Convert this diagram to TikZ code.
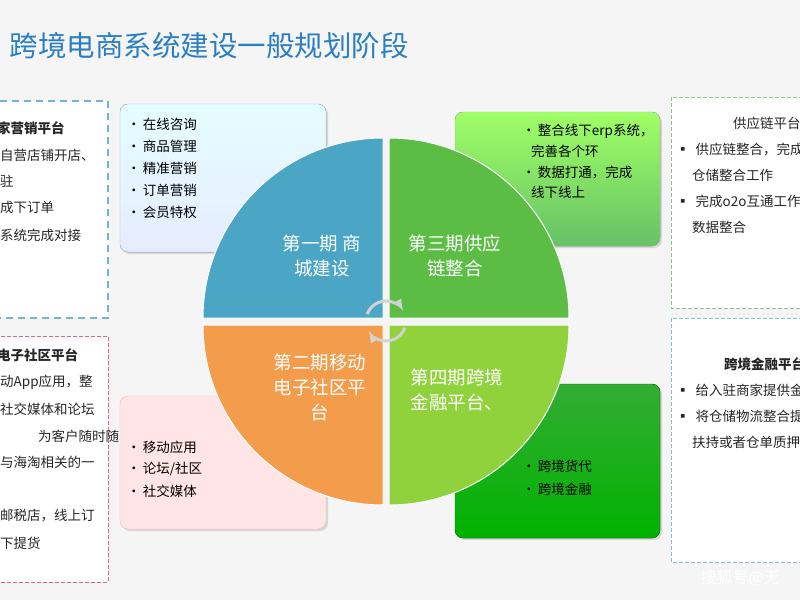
\documentclass[tikz,border=0pt]{standalone}
\usepackage{fontspec}
\setmainfont{Noto Sans CJK SC}
\usetikzlibrary{shadows}
\definecolor{qb}{HTML}{4BA5C4}
\definecolor{qg}{HTML}{5CBD45}
\definecolor{qo}{HTML}{F39C4B}
\definecolor{ql}{HTML}{8FD23C}
\definecolor{tt}{HTML}{2A7FC4}
\begin{document}
\begin{tikzpicture}[x=1pt,y=-1pt,
  q/.style={draw=white,line width=1pt},
  qt/.style={text=white,font=\fontsize{18.5}{25}\selectfont,align=center},
  bx/.style={rounded corners=8pt,drop shadow={opacity=0.25,shadow xshift=2pt,shadow yshift=-2pt}},
  bl/.style={anchor=west,font=\fontsize{13.5}{15}\selectfont,inner sep=0pt},
  sd/.style={anchor=west,font=\fontsize{13.5}{15}\selectfont,inner sep=0pt,text=black!85},
  db/.style={fill=white,line width=1.6pt,dash pattern=on 7pt off 5pt}]
\useasboundingbox (0,0) rectangle (800,600);
\fill[black!4] (0,0) rectangle (800,600);
\clip (0,0) rectangle (800,600);
\node[anchor=west,text=tt,font=\fontsize{28.5}{32}\selectfont] (title) at (6,46) {跨境电商系统建设一般规划阶段};
% side dashed boxes
\draw[db,draw=qb!80] (-5,101) rectangle (108,318);
\draw[db,draw=red!40!purple!60,line width=1pt,dash pattern=on 4pt off 2pt] (-5,336) rectangle (108,582);
\draw[db,draw=green!30!gray!70,line width=1pt,dash pattern=on 4pt off 2pt] (671,97) rectangle (805,308);
\draw[db,draw=qb!70,line width=1pt,dash pattern=on 4pt off 2pt] (671,318) rectangle (805,562);
\node[sd,font=\bfseries\fontsize{13.5}{15}\selectfont] (l1) at (-3,128) {家营销平台};
\node[sd] (l2) at (0,155) {自营店铺开店、};
\node[sd] (l3) at (0,181) {驻};
\node[sd] (l4) at (0,207) {成下订单};
\node[sd] (l5) at (0,235) {系统完成对接};
\node[sd,font=\bfseries\fontsize{13.5}{15}\selectfont] (m1) at (-3,355) {电子社区平台};
\node[sd] (m2) at (0,382) {动App应用，整};
\node[sd] (m3) at (0,409) {社交媒体和论坛};
\node[sd] (m4) at (38,436) {为客户随时随};
\node[sd] (m5) at (0,462) {与海淘相关的一};
\node[sd] (m6) at (0,516) {邮税店，线上订};
\node[sd] (m7) at (0,543) {下提货};
\node[sd] (r1) at (733,123) {供应链平台};
\node[sd] (r2) at (676,149) {▪\hspace{6pt}供应链整合，完成};
\node[sd] (r3) at (692,175) {仓储整合工作};
\node[sd] (r4) at (676,201) {▪\hspace{6pt}完成o2o互通工作};
\node[sd] (r5) at (692,227) {数据整合};
\node[sd,font=\bfseries\fontsize{13.5}{15}\selectfont] (s1) at (724,364) {跨境金融平台};
\node[sd] (s2) at (676,390) {▪\hspace{6pt}给入驻商家提供金融};
\node[sd] (s3) at (676,416) {▪\hspace{6pt}将仓储物流整合提供};
\node[sd] (s4) at (692,442) {扶持或者仓单质押};
% feature boxes
\fill[bx,top color=blue!8!cyan!10,bottom color=cyan!25!blue!10,draw=qb!60] (120,104) rectangle (326,252);
\fill[bx,top color=green!50!lime!60,bottom color=green!60!black!60,draw=green!50!black!40] (455,112) rectangle (660,246);
\fill[bx,fill=red!10,draw=red!30] (120,396) rectangle (326,529);
\fill[bx,top color=green!60!black!80,bottom color=green!70!black,draw=green!50!black] (455,384) rectangle (660,538);
\foreach \t [count=\i] in {在线咨询,商品管理,精准营销,订单营销,会员特权}
  \node[bl] (a\i) at (127,102+22*\i) {•\,\t};
\node[bl] (b1) at (522,131) {•\,整合线下erp系统，};
\node[bl] (b2) at (531,151) {完善各个环};
\node[bl] (b3) at (522,172) {•\,数据打通，完成};
\node[bl] (b4) at (531,192) {线下线上};
\foreach \t [count=\i] in {移动应用,论坛/社区,社交媒体}
  \node[bl] (c\i) at (127,425+22*\i) {•\,\t};
\node[bl] (d1) at (522,466) {•\,跨境货代};
\node[bl] (d2) at (522,489) {•\,跨境金融};
% quadrants
\fill[q,fill=qb] (383,318) -- (203,318) arc[start angle=180,end angle=270,radius=180] -- cycle;
\fill[q,fill=qg] (389,318) -- (389,138) arc[start angle=270,end angle=360,radius=180] -- cycle;
\fill[q,fill=qo] (383,325) -- (383,505) arc[start angle=90,end angle=180,radius=180] -- cycle;
\fill[q,fill=ql] (389,325) -- (569,325) arc[start angle=0,end angle=90,radius=180] -- cycle;
\node[qt] (t1) at (322,256) {第一期 商\\城建设};
\node[qt] (t2) at (455,256) {第三期供应\\链整合};
\node[qt] (t3) at (320,387) {第二期移动\\电子社区平\\台};
\node[qt] (t4) at (457,390) {第四期跨境\\金融平台、};
% center arrows
\coordinate (c) at (386,321);
\draw[gray!35!white,line width=3pt,-latex] ([shift={(200:20)}]c) arc[start angle=200,end angle=330,radius=20];
\draw[gray!35!white,line width=3pt,-latex] ([shift={(20:20)}]c) arc[start angle=20,end angle=150,radius=20];
\node[anchor=west,text=white,font=\fontsize{16}{18}\selectfont] (wm) at (697,578) {搜狐号@无};
\end{tikzpicture}
\end{document}
